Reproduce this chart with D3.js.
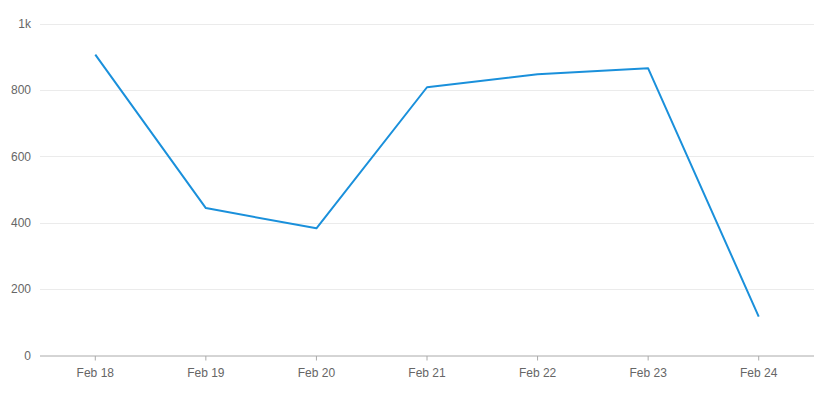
<!DOCTYPE html>
<html>
<head>
<meta charset="utf-8">
<script src="https://cdn.jsdelivr.net/npm/d3@7"></script>
<style>
html,body{margin:0;padding:0;background:#fff;}
svg{display:block;font-family:"Liberation Sans",Arial,sans-serif;}
</style>
</head>
<body>
<svg id="chart" width="822" height="393"></svg>
<script>
const categories = ["Feb 18","Feb 19","Feb 20","Feb 21","Feb 22","Feb 23","Feb 24"];
const values = [906, 444, 383, 808, 847, 865, 117];
const yTicks = [0, 200, 400, 600, 800, 1000];
const yTickLabels = ["0","200","400","600","800","1k"];

(function () {
const svg = d3.select("#chart");
const mLeft = 40, mRight = 814, mTop = 23.5, mBottom = 355.5;

const x = d3.scaleBand().domain(categories).range([mLeft, mRight]).padding(0);
const y = d3.scaleLinear().domain([0, 1000]).range([mBottom, mTop]);

// grid
svg.append("g").selectAll("line").data(yTicks.filter(d => d > 0)).join("line")
  .attr("x1", mLeft).attr("x2", mRight)
  .attr("y1", d => Math.round(y(d)) + 0.5).attr("y2", d => Math.round(y(d)) + 0.5)
  .attr("stroke", "#ebebeb").attr("stroke-width", 1);

// y axis labels
const yAxis = d3.axisLeft(y).tickValues(yTicks).tickSize(0).tickPadding(0)
  .tickFormat((d, i) => yTickLabels[i]);
const yg = svg.append("g").attr("transform", "translate(31,0)").call(yAxis);
yg.select(".domain").remove();
yg.selectAll("text").attr("fill", "#666").attr("font-size", "12px")
  .attr("font-family", "Liberation Sans, Arial, sans-serif");

// x axis
const xAxis = d3.axisBottom(x).tickSize(5).tickPadding(8).tickSizeOuter(0);
const xg = svg.append("g").attr("transform", `translate(0,${mBottom})`).call(xAxis);
xg.select(".domain").attr("stroke", "#aaa").attr("d", `M${mLeft},0.5H${mRight}`);
xg.selectAll(".tick line").attr("stroke", "#aaa").attr("y1", 0.5).attr("y2", 5);
xg.selectAll("text").attr("fill", "#666").attr("font-size", "12px")
  .attr("font-family", "Liberation Sans, Arial, sans-serif");

// line
const line = d3.line()
  .x((d, i) => x(categories[i]) + x.bandwidth() / 2)
  .y(d => y(d));
svg.append("path").datum(values)
  .attr("d", line)
  .attr("fill", "none")
  .attr("stroke", "#1a90db")
  .attr("stroke-width", 2)
  .attr("stroke-linejoin", "round");
})();
</script>
</body>
</html>
